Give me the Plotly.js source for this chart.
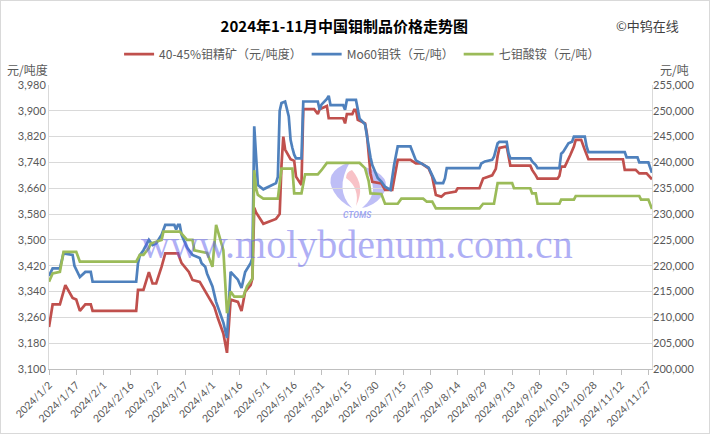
<!DOCTYPE html>
<html>
<head>
<meta charset="utf-8">
<script src="https://cdn.plot.ly/plotly-3.0.1.min.js"></script>
<style>
  html, body { margin: 0; padding: 0; background: #fff; }
  #wrap { position: absolute; left: 0; top: 0; width: 708px; height: 432px; border: 1px solid #d9d9d9; }
  #chart { width: 708px; height: 432px; }
</style>
</head>
<body>
<div id="wrap"><div id="chart"></div></div>
<script>
// ---- 40-45%钼精矿 (元/吨度), left axis ----
const oreDates = ['2024-01-02','2024-01-04','2024-01-08','2024-01-11','2024-01-15','2024-01-17','2024-01-19','2024-01-22','2024-01-25','2024-01-26',
  '2024-02-19','2024-02-20','2024-02-23','2024-02-26','2024-02-28','2024-03-01','2024-03-04','2024-03-06','2024-03-13','2024-03-15',
  '2024-03-19','2024-03-21','2024-03-25','2024-03-27','2024-03-29','2024-04-02','2024-04-04','2024-04-07','2024-04-09','2024-04-11',
  '2024-04-15','2024-04-17','2024-04-19','2024-04-22','2024-04-23','2024-04-24','2024-04-25','2024-04-29','2024-05-06','2024-05-08',
  '2024-05-09','2024-05-10','2024-05-11','2024-05-14','2024-05-16','2024-05-17','2024-05-20','2024-05-21','2024-05-27','2024-05-29',
  '2024-05-30','2024-06-03','2024-06-04','2024-06-12','2024-06-13','2024-06-14','2024-06-17','2024-06-18','2024-06-19','2024-06-20',
  '2024-06-24','2024-06-25','2024-06-27','2024-06-28','2024-07-03','2024-07-05','2024-07-09','2024-07-12','2024-07-19','2024-07-22',
  '2024-07-25','2024-07-29','2024-07-31','2024-08-02','2024-08-05','2024-08-07','2024-08-13','2024-08-14','2024-08-26','2024-08-28',
  '2024-09-02','2024-09-04','2024-09-05','2024-09-06','2024-09-10','2024-09-11','2024-09-12','2024-09-23','2024-09-24','2024-09-26',
  '2024-09-27','2024-10-08','2024-10-09','2024-10-10','2024-10-12','2024-10-15','2024-10-17','2024-10-18','2024-10-21','2024-10-23',
  '2024-10-25','2024-11-13','2024-11-14','2024-11-20','2024-11-22','2024-11-26','2024-11-29'];
const oreValues = [3230,3300,3300,3360,3320,3315,3280,3300,3300,3280,
  3280,3345,3345,3400,3365,3365,3417,3458,3458,3428,
  3401,3376,3370,3350,3329,3293,3257,3210,3150,3315,
  3308,3280,3340,3360,3380,3600,3585,3550,3565,3580,
  3730,3820,3780,3750,3745,3696,3670,3905,3905,3890,
  3905,3915,3877,3877,3861,3890,3890,3903,3903,3872,
  3861,3830,3706,3680,3675,3655,3655,3748,3748,3737,
  3737,3722,3696,3639,3634,3644,3650,3660,3660,3690,
  3700,3720,3760,3785,3790,3755,3730,3730,3717,3700,
  3690,3690,3698,3727,3727,3763,3789,3810,3810,3779,
  3750,3750,3717,3717,3706,3706,3688];

// ---- Mo60钼铁 (元/吨), right axis ----
const feDates = ['2024-01-02','2024-01-04','2024-01-08','2024-01-10','2024-01-15','2024-01-16','2024-01-19','2024-01-22','2024-01-25','2024-01-26',
  '2024-02-19','2024-02-20','2024-02-21','2024-02-23','2024-02-26','2024-02-28','2024-03-01','2024-03-04','2024-03-06','2024-03-11',
  '2024-03-12','2024-03-13','2024-03-14','2024-03-15','2024-03-18','2024-03-21','2024-03-25','2024-03-26','2024-03-28','2024-03-29',
  '2024-04-01','2024-04-02','2024-04-03','2024-04-07','2024-04-08','2024-04-09','2024-04-11','2024-04-15','2024-04-17','2024-04-19',
  '2024-04-22','2024-04-23','2024-04-24','2024-04-25','2024-04-26','2024-04-29','2024-05-06','2024-05-07','2024-05-08','2024-05-09',
  '2024-05-11','2024-05-13','2024-05-14','2024-05-15','2024-05-16','2024-05-17','2024-05-20','2024-05-21','2024-05-29','2024-05-30',
  '2024-05-31','2024-06-03','2024-06-04','2024-06-05','2024-06-12','2024-06-13','2024-06-14','2024-06-19','2024-06-20','2024-06-21',
  '2024-06-24','2024-06-25','2024-06-26','2024-06-27','2024-06-28','2024-07-01','2024-07-03','2024-07-05','2024-07-08','2024-07-09',
  '2024-07-10','2024-07-12','2024-07-19','2024-07-22','2024-07-25','2024-07-29','2024-07-31','2024-08-02','2024-08-06','2024-08-07',
  '2024-08-08','2024-08-26','2024-08-27','2024-08-29','2024-09-02','2024-09-03','2024-09-05','2024-09-06','2024-09-10','2024-09-11',
  '2024-09-12','2024-09-23','2024-09-24','2024-09-26','2024-09-27','2024-10-09','2024-10-10','2024-10-11','2024-10-14','2024-10-16',
  '2024-10-17','2024-10-23','2024-10-24','2024-10-25','2024-11-14','2024-11-15','2024-11-21','2024-11-22','2024-11-27','2024-11-28',
  '2024-11-29'];
const feValues = [218000,219500,219500,222400,222100,220000,217800,218800,218800,216900,
  216900,220500,222000,223000,225000,224000,224300,226000,227900,227900,
  227000,227900,227900,226000,223500,222100,221500,220500,219800,218500,
  216000,214400,213000,209000,207500,206000,218800,217300,215700,218800,
  220500,221500,247000,240500,235600,234800,236000,237200,250000,251500,
  251800,248900,244400,242800,241500,240800,240800,251800,251800,250200,
  251200,252300,252900,251100,251100,250200,252100,252100,250200,248500,
  247400,245000,243500,241000,239500,237000,236300,235300,234700,237500,
  239500,243100,243100,240400,239800,239000,237500,236000,236000,236900,
  238900,238900,239800,240200,240500,241100,243700,244000,244000,241800,
  240800,240800,240200,239500,238900,238900,241700,242000,243700,244000,
  245000,245000,243100,242000,242000,241000,241000,240000,240000,239000,
  238000];

// ---- 七钼酸铵 (元/吨), right axis ----
const ahmDates = ['2024-01-02','2024-01-04','2024-01-08','2024-01-10','2024-01-17','2024-01-19','2024-02-19','2024-02-21','2024-02-23','2024-02-26',
  '2024-02-27','2024-03-04','2024-03-05','2024-03-14','2024-03-18','2024-03-21','2024-03-22','2024-03-29','2024-04-01','2024-04-03',
  '2024-04-07','2024-04-09','2024-04-11','2024-04-13','2024-04-18','2024-04-20','2024-04-23','2024-04-24','2024-04-25','2024-04-26',
  '2024-04-29','2024-05-07','2024-05-09','2024-05-15','2024-05-16','2024-05-20','2024-05-22','2024-05-29','2024-05-31','2024-06-03',
  '2024-06-21','2024-06-24','2024-06-26','2024-06-27','2024-07-03','2024-07-05','2024-07-12','2024-07-14','2024-07-26','2024-07-28',
  '2024-07-31','2024-08-02','2024-08-26','2024-08-28','2024-09-03','2024-09-05','2024-09-13','2024-09-14','2024-09-23','2024-09-24',
  '2024-09-26','2024-09-27','2024-10-09','2024-10-10','2024-10-17','2024-10-18','2024-11-22','2024-11-23','2024-11-27','2024-11-29'];
const ahmValues = [216900,218500,218800,222700,222700,220800,220800,222100,222100,223400,
  224300,225000,226600,226600,225000,225000,223000,222500,219800,227900,
  223000,210800,215000,214000,214000,216000,217500,238500,235000,233700,
  233000,233000,238800,238800,234000,234000,237700,237700,238500,239900,
  239900,238900,236400,234000,233900,232000,232000,233000,233000,232400,
  232400,231100,231100,232000,232000,236000,236000,235000,235000,234000,
  234000,232000,232000,232800,232800,233500,233500,232800,232800,231000];

// ---- axis ticks ----
const tickDates = ['2024-01-02','2024-01-17','2024-02-01','2024-02-16','2024-03-02','2024-03-17','2024-04-01','2024-04-16',
  '2024-05-01','2024-05-16','2024-05-31','2024-06-15','2024-06-30','2024-07-15','2024-07-30','2024-08-14','2024-08-29',
  '2024-09-13','2024-09-28','2024-10-13','2024-10-28','2024-11-12','2024-11-27'];
const tickLabels = ['2024/1/2','2024/1/17','2024/2/1','2024/2/16','2024/3/2','2024/3/17','2024/4/1','2024/4/16',
  '2024/5/1','2024/5/16','2024/5/31','2024/6/15','2024/6/30','2024/7/15','2024/7/30','2024/8/14','2024/8/29',
  '2024/9/13','2024/9/28','2024/10/13','2024/10/28','2024/11/12','2024/11/27'];
const seriesNames = ['40-45%钼精矿（元/吨度）','Mo60钼铁（元/吨）','七钼酸铵（元/吨）'];

const FONT = 'Lato, "Noto Sans CJK SC", sans-serif';
const CJK = '"Noto Sans CJK SC", sans-serif';

const traces = [
  {x: oreDates, y: oreValues, name: seriesNames[0], type: 'scatter', mode: 'lines', yaxis: 'y',
   line: {color: '#c0504d', width: 2.7}},
  {x: feDates, y: feValues, name: seriesNames[1], type: 'scatter', mode: 'lines', yaxis: 'y2',
   line: {color: '#4f81bd', width: 2.7}},
  {x: ahmDates, y: ahmValues, name: seriesNames[2], type: 'scatter', mode: 'lines', yaxis: 'y2',
   line: {color: '#9bbb59', width: 2.7}}
];

function px2x(px) { return (px - 49) / 603; }
function px2y(py) { return (369 - py) / 284; }
function P(a, b) { return px2x(a) + ' ' + px2y(b); }

const layout = {
  width: 708, height: 432,
  margin: {l: 48, r: 57, t: 84, b: 64},
  paper_bgcolor: '#ffffff', plot_bgcolor: 'rgba(0,0,0,0)',
  font: {family: FONT, color: '#595959', size: 11},
  showlegend: true,
  title: {text: '<b>2024年1-11月中国钼制品价格走势图</b>', font: {family: CJK, size: 15, color: '#000000'},
          x: 0.485, xref: 'container', xanchor: 'center', y: 0.94, yref: 'container', yanchor: 'middle'},
  legend: {orientation: 'h', xref: 'container', yref: 'container', x: 0.51, xanchor: 'center', y: 0.877, yanchor: 'middle',
           font: {family: CJK, size: 12, color: '#595959'}, itemwidth: 30, traceorder: 'normal', bgcolor: 'rgba(0,0,0,0)'},
  xaxis: {type: 'date', range: ['2024-01-02', '2024-11-29'], tickmode: 'array', tickvals: tickDates, ticktext: tickLabels,
          tickangle: -45, ticks: 'outside', ticklen: 5, tickcolor: '#bfbfbf', showgrid: false, showline: true,
          linecolor: '#bfbfbf', linewidth: 1, zeroline: false, tickfont: {family: FONT, size: 10.5, color: '#595959'}, fixedrange: true},
  yaxis: {range: [3100, 3980], dtick: 80, tick0: 3100, tickformat: ',d', showgrid: true, gridcolor: '#d9d9d9', gridwidth: 1,
          showline: true, mirror: true, linecolor: '#d9d9d9', linewidth: 1, zeroline: false, ticks: '',
          tickfont: {family: FONT, size: 11, color: '#595959'}, fixedrange: true},
  yaxis2: {range: [200000, 255000], dtick: 5000, tick0: 200000, tickformat: ',d', overlaying: 'y', side: 'right',
           showgrid: false, showline: false, zeroline: false, ticks: '',
           tickfont: {family: FONT, size: 11, color: '#595959'}, fixedrange: true},
  annotations: [
    {text: '元/吨度', xref: 'paper', yref: 'paper', x: px2x(27), y: px2y(70), showarrow: false,
     font: {family: CJK, size: 12, color: '#595959'}, xanchor: 'center', yanchor: 'middle'},
    {text: '元/吨', xref: 'paper', yref: 'paper', x: px2x(674), y: px2y(70), showarrow: false,
     font: {family: CJK, size: 12, color: '#595959'}, xanchor: 'center', yanchor: 'middle'},
    {text: '©中钨在线', xref: 'paper', yref: 'paper', x: px2x(647), y: px2y(26), showarrow: false,
     font: {family: CJK, size: 13, color: '#404040'}, xanchor: 'center', yanchor: 'middle'},
    {text: 'www.molybdenum.com.cn', xref: 'paper', yref: 'paper', x: px2x(357), y: px2y(244), showarrow: false,
     font: {family: '"Liberation Serif", "DejaVu Serif", serif', size: 40, color: 'rgba(95,95,235,0.5)'}, xanchor: 'center', yanchor: 'middle'},
    {text: '<b><i>CTOMS</i></b>', xref: 'paper', yref: 'paper', x: px2x(357), y: px2y(215), showarrow: false,
     font: {family: 'Roboto, sans-serif', size: 8.5, color: 'rgba(95,110,235,0.6)'}, xanchor: 'center', yanchor: 'middle'}
  ],
  shapes: [
    // CTOMS logo: blue crescent left, red flame centre, blue crescent right
    {type: 'path', xref: 'paper', yref: 'paper', layer: 'below',
     path: 'M ' + P(350, 162) + ' Q ' + P(322, 172) + ' ' + P(334, 192) + ' Q ' + P(340, 202) + ' ' + P(352, 208)
         + ' Q ' + P(334, 190) + ' ' + P(350, 162) + ' Z',
     fillcolor: 'rgba(110,110,235,0.45)', line: {width: 0}},
    {type: 'path', xref: 'paper', yref: 'paper', layer: 'below',
     path: 'M ' + P(352, 170) + ' Q ' + P(366, 186) + ' ' + P(356, 206) + ' Q ' + P(360, 188) + ' ' + P(346, 178)
         + ' Q ' + P(346, 172) + ' ' + P(352, 170) + ' Z',
     fillcolor: 'rgba(240,120,130,0.45)', line: {width: 0}},
    {type: 'path', xref: 'paper', yref: 'paper', layer: 'below',
     path: 'M ' + P(362, 166) + ' Q ' + P(396, 176) + ' ' + P(382, 196) + ' Q ' + P(374, 206) + ' ' + P(362, 208)
         + ' Q ' + P(384, 190) + ' ' + P(362, 166) + ' Z',
     fillcolor: 'rgba(110,110,235,0.45)', line: {width: 0}}
  ]
};

Plotly.newPlot('chart', traces, layout, {staticPlot: true, displayModeBar: false});
</script>
</body>
</html>
